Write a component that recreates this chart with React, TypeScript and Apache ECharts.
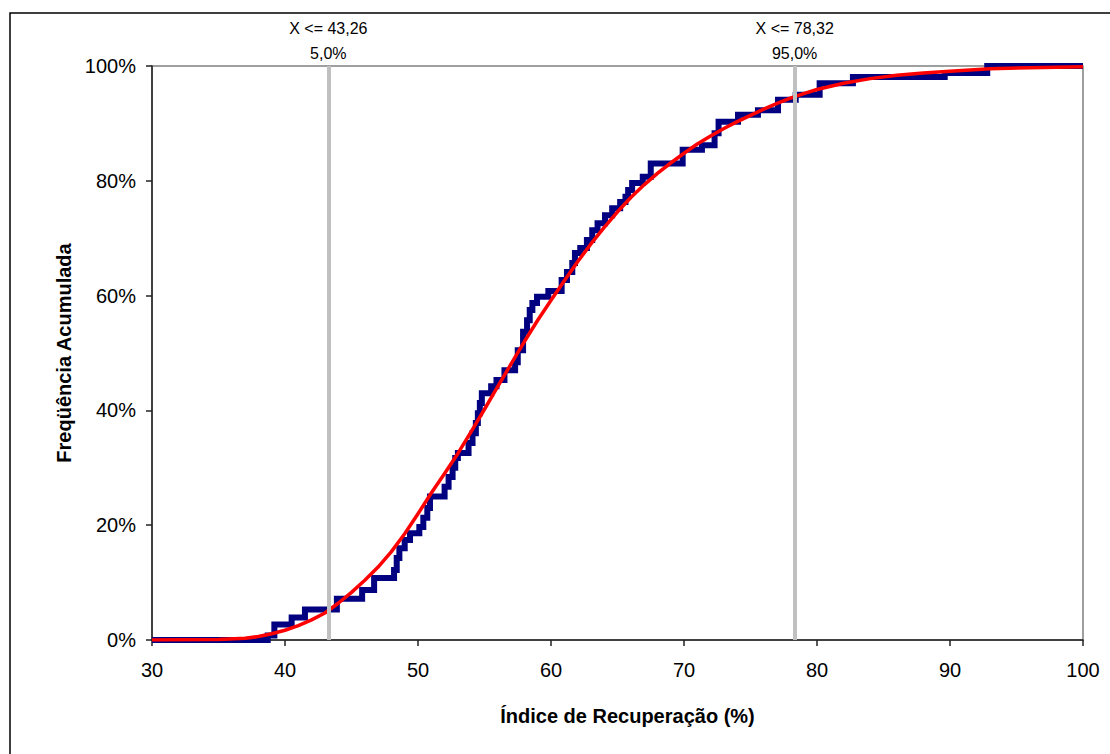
import React, { useEffect, useRef } from "react";
import * as echarts from "echarts";

// Empirical cumulative frequency (step points: value where CDF jumps, new CDF level in %)
const empX = [30, 38.7, 39.2, 40.5, 41.5, 43.9, 45.8, 46.7, 48.2, 48.4, 48.6, 49.0, 49.4, 50.1, 50.4, 50.7, 50.9, 52.0, 52.3, 52.6, 52.8, 53.0, 53.8, 54.1, 54.35, 54.5, 54.65, 54.8, 55.5, 55.9, 56.5, 57.3, 57.5, 57.9, 58.2, 58.4, 58.6, 58.95, 59.8, 60.8, 61.2, 61.6, 61.8, 62.2, 62.7, 63.1, 63.5, 64.06, 64.6, 65.2, 65.6, 65.8, 66.1, 66.9, 67.5, 69.9, 71.35, 72.3, 72.6, 74.06, 75.56, 77.07, 78.4, 80.2, 82.7, 89.6, 92.8, 100];
const empY = [0, 0.8, 2.7, 3.9, 5.3, 7.2, 8.7, 10.8, 12.2, 14.3, 16.0, 17.4, 18.6, 19.7, 21.3, 23.0, 25.0, 26.7, 28.4, 30.0, 31.7, 32.6, 34.3, 36.0, 37.8, 39.5, 41.3, 43.0, 44.2, 45.3, 47.0, 48.4, 50.5, 53.7, 55.7, 57.5, 58.7, 59.8, 60.8, 62.7, 64.1, 65.7, 67.4, 68.3, 69.7, 71.4, 72.6, 74.0, 75.2, 76.3, 77.2, 78.4, 79.6, 80.7, 83.0, 85.4, 86.2, 88.3, 90.3, 91.5, 92.3, 94.1, 95.0, 97.0, 98.1, 98.8, 100, 100];

// Fitted distribution curve
const fitX = [30, 35, 37, 38, 39, 40, 41, 42, 43, 44, 45, 46, 47, 48, 49, 50, 51, 52, 53, 54, 55, 56, 57, 58, 59, 60, 61, 62, 63, 64, 65, 66, 67, 68, 69, 70, 71, 72, 73, 74, 75, 76, 77, 78, 79, 80, 82, 84, 86, 88, 90, 93, 96, 100];
const fitY = [0, 0.1, 0.3, 0.6, 1.1, 1.7, 2.5, 3.5, 4.7, 6.4, 8.3, 10.4, 12.7, 15.4, 18.5, 22.0, 25.6, 29.0, 32.5, 36.3, 40.2, 44.2, 48.1, 52.0, 55.7, 59.2, 62.6, 65.9, 69.0, 71.9, 74.6, 77.1, 79.3, 81.3, 83.1, 84.8, 86.4, 87.8, 89.1, 90.3, 91.4, 92.5, 93.5, 94.4, 95.2, 95.9, 97.0, 97.8, 98.4, 98.8, 99.1, 99.5, 99.7, 99.85];

// Percentile markers
const markValues = [43.26, 78.32];
const markLabels = ["X <= 43,26\n5,0%", "X <= 78,32\n95,0%"];

const xTicks = { min: 30, max: 100, interval: 10 };
const yTicks = { min: 0, max: 100, interval: 20 };

export default function App() {
  const ref = useRef<HTMLDivElement>(null);
  useEffect(() => {
    if (!ref.current) return;
    const chart = echarts.init(ref.current, undefined, { renderer: "svg" });
    const font = "Liberation Sans, Arial, sans-serif";
    chart.setOption({
      animation: false,
      backgroundColor: "#ffffff",
      textStyle: { fontFamily: font },
      graphic: [
        {
          type: "rect",
          shape: { x: 10, y: 13, width: 1120, height: 760 },
          style: { fill: "none", stroke: "#000", lineWidth: 1.5 },
          z: 0,
          silent: true,
        },
      ],
      grid: {
        left: 152,
        top: 66,
        right: 27,
        bottom: 114,
        show: true,
        borderColor: "#808080",
        borderWidth: 1.5,
        backgroundColor: "transparent",
      },
      xAxis: {
        type: "value",
        min: xTicks.min,
        max: xTicks.max,
        interval: xTicks.interval,
        name: "Índice de Recuperação (%)",
        nameLocation: "middle",
        nameGap: 66,
        nameTextStyle: { fontSize: 20, fontWeight: "bold", color: "#000", fontFamily: font, padding: [0, 0, 0, 20] },
        axisLine: { show: true, lineStyle: { color: "#222", width: 1.5 } },
        axisTick: { show: true, inside: false, length: 6, lineStyle: { color: "#222", width: 1.5 } },
        axisLabel: { fontSize: 20, color: "#000", margin: 20, fontFamily: font },
        splitLine: { show: false },
      },
      yAxis: {
        type: "value",
        min: yTicks.min,
        max: yTicks.max,
        interval: yTicks.interval,
        name: "Freqüência Acumulada",
        nameLocation: "middle",
        nameGap: 76,
        nameRotate: 90,
        nameTextStyle: { fontSize: 20, fontWeight: "bold", color: "#000", fontFamily: font },
        axisLine: { show: true, lineStyle: { color: "#222", width: 1.5 } },
        axisTick: { show: true, inside: false, length: 6, lineStyle: { color: "#222", width: 1.5 } },
        axisLabel: { fontSize: 20, color: "#000", margin: 16, formatter: "{value}%", fontFamily: font },
        splitLine: { show: false },
      },
      series: [
        {
          type: "line",
          data: [],
          z: 1,
          silent: true,
          markLine: {
            silent: true,
            symbol: ["none", "none"],
            lineStyle: { color: "#C0C0C0", width: 4, type: "solid" },
            label: {
              show: true,
              position: "end",
              distance: 0,
              fontSize: 16,
              lineHeight: 25,
              color: "#000",
              fontFamily: font,
              align: "center",
              formatter: (p: any) => markLabels[markValues.indexOf(p.value)] ?? "",
            },
            data: markValues.map((v) => ({ xAxis: v })),
          },
        },
        {
          type: "line",
          data: empX.map((x, i) => [x, empY[i]]),
          step: "end",
          showSymbol: false,
          symbol: "none",
          z: 2,
          lineStyle: { color: "#000080", width: 6, join: "miter", cap: "butt" },
        },
        {
          type: "line",
          data: fitX.map((x, i) => [x, fitY[i]]),
          smooth: false,
          showSymbol: false,
          symbol: "none",
          z: 3,
          lineStyle: { color: "#FF0000", width: 3.5, join: "round" },
        },
      ],
    });
    return () => chart.dispose();
  }, []);
  return (
    <div
      ref={ref}
      style={{ position: "absolute", left: 0, top: 0, width: 1110, height: 754 }}
    />
  );
}
